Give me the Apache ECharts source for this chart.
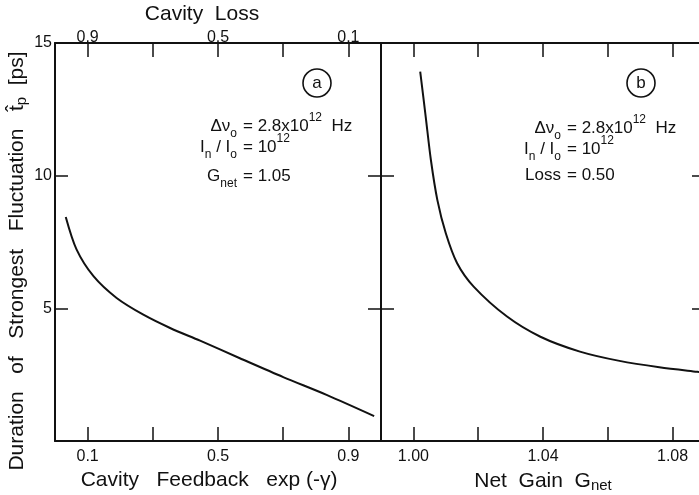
<!DOCTYPE html>
<html>
<head>
<meta charset="utf-8">
<script src="https://cdn.jsdelivr.net/npm/echarts@6/dist/echarts.min.js"></script>
<style>
  html, body { margin: 0; padding: 0; background: #fff; }
  #chart { width: 699px; height: 495px; }
</style>
</head>
<body>
<div id="chart"></div>
<script>
// (a) duration of strongest fluctuation vs cavity feedback exp(-γ), G_net = 1.05
const feedback  = [0.033, 0.066, 0.118, 0.189, 0.271, 0.353, 0.445, 0.567, 0.700, 0.833, 0.979];
const durationA = [8.44, 7.22, 6.21, 5.39, 4.76, 4.26, 3.78, 3.12, 2.41, 1.74, 0.94];

// (b) duration vs net gain, loss = 0.50
const netGain   = [1.0021, 1.0038, 1.0054, 1.0074, 1.0100, 1.0135, 1.0186, 1.0289, 1.0392, 1.0514, 1.0636, 1.0759, 1.0876, 1.0900];
const durationB = [13.92, 12.22, 10.59, 9.08, 7.83, 6.70, 5.82, 4.69, 3.93, 3.37, 3.02, 2.78, 2.61, 2.58];

// ticks and tick labels
const feedbackTicks  = [0.1, 0.3, 0.5, 0.7, 0.9];
const feedbackLabels = [0.1, 0.5, 0.9];
const lossTicks      = [0.1, 0.3, 0.5, 0.7, 0.9];
const lossLabels     = [0.1, 0.5, 0.9];
const gainTicks      = [1.00, 1.02, 1.04, 1.06, 1.08];
const gainLabels     = [1.00, 1.04, 1.08];
const durTicks       = [5, 10];
const durLabels      = [5, 10, 15];

const FONT = 'Liberation Sans';
const INK = '#111';

const chart = echarts.init(document.getElementById('chart'));

// frame-style axis: thick line, ticks pointing into the plot
function axis(o) {
  return {
    type: 'value',
    gridIndex: o.grid,
    position: o.pos,
    min: o.min, max: o.max,
    inverse: !!o.inverse,
    axisLine: { show: true, onZero: false, lineStyle: { color: INK, width: 2 } },
    axisTick: { show: true, inside: true, length: o.tickLen || 14, customValues: o.ticks, lineStyle: { color: INK, width: 1.5 } },
    axisLabel: o.labels ? {
      show: true, customValues: o.labels, formatter: o.fmt,
      color: INK, fontFamily: FONT, fontSize: 16, margin: o.margin != null ? o.margin : 6
    } : { show: false },
    splitLine: { show: false },
    name: o.name || '',
    nameLocation: 'middle',
    nameGap: o.nameGap || 0,
    nameRotate: o.nameRotate,
    nameTextStyle: {
      color: INK, fontFamily: FONT, fontSize: o.nameSize || 21, padding: o.namePad || 0,
      rich: { sub: { fontFamily: FONT, fontSize: 15, color: INK, verticalAlign: 'bottom', padding: [9, 0, 0, 0] } }
    }
  };
}

// annotation lines, aligned on the "=" sign
function note(eqX, y, left, right) {
  const rich = {
    sub: { fill: INK, fontFamily: FONT, fontSize: 12, verticalAlign: 'bottom', lineHeight: 14 },
    sup: { fill: INK, fontFamily: FONT, fontSize: 12, verticalAlign: 'top', lineHeight: 14 }
  };
  const base = { fill: INK, fontFamily: FONT, fontSize: 17, lineHeight: 28, verticalAlign: 'middle', rich };
  return [
    { type: 'text', x: eqX - 6, y, style: Object.assign({ text: left, align: 'right' }, base) },
    { type: 'text', x: eqX, y, style: Object.assign({ text: right, align: 'left' }, base) }
  ];
}

function circled(cx, cy, ch) {
  return [
    { type: 'circle', shape: { cx, cy, r: 14 }, style: { fill: 'none', stroke: INK, lineWidth: 1.6 } },
    { type: 'text', x: cx, y: cy, style: { text: ch, fill: INK, fontFamily: FONT, fontSize: 17, align: 'center', verticalAlign: 'middle' } }
  ];
}

const fmt1 = v => v.toFixed(1);
const fmt2 = v => v.toFixed(2);

chart.setOption({
  backgroundColor: '#fff',
  animation: false,
  grid: [
    { left: 55, top: 43, width: 326, height: 398, outerBoundsMode: 'none' },
    { left: 381, top: 43, width: 324, height: 398, outerBoundsMode: 'none' }
  ],
  xAxis: [
    axis({ grid: 0, pos: 'bottom', min: 0, max: 1, ticks: feedbackTicks, labels: feedbackLabels, fmt: fmt1, margin: 8,
      name: 'Cavity   Feedback   exp (-γ)', nameGap: 28, namePad: [0, 18, 0, 0] }),
    axis({ grid: 0, pos: 'top', min: 0, max: 1, inverse: true, ticks: lossTicks, labels: lossLabels, fmt: fmt1, margin: -3,
      name: 'Cavity  Loss', nameGap: 15, namePad: [0, 32, 0, 0] }),
    axis({ grid: 1, pos: 'bottom', min: 0.99, max: 1.09, ticks: gainTicks, labels: gainLabels, fmt: fmt2, margin: 8,
      name: 'Net  Gain  G{sub|net}', nameGap: 28 }),
    axis({ grid: 1, pos: 'top', min: 0.99, max: 1.09, ticks: gainTicks })
  ],
  yAxis: [
    axis({ grid: 0, pos: 'left', min: 0, max: 15, ticks: durTicks, labels: durLabels, fmt: v => String(v), margin: 3, tickLen: 13,
      name: 'Duration   of   Strongest   Fluctuation   t̂{sub|p}  [ps]',
      nameGap: 26, nameRotate: 90, namePad: [0, 38, 0, 0] }),
    axis({ grid: 0, pos: 'right', min: 0, max: 15, ticks: durTicks, tickLen: 13 }),
    axis({ grid: 1, pos: 'left', min: 0, max: 15, ticks: durTicks, tickLen: 13 }),
    axis({ grid: 1, pos: 'right', min: 0, max: 15, ticks: durTicks, tickLen: 13 })
  ],
  series: [
    {
      type: 'line', xAxisIndex: 0, yAxisIndex: 0,
      data: feedback.map((x, i) => [x, durationA[i]]),
      smooth: 0.3, showSymbol: false,
      lineStyle: { color: INK, width: 2 }
    },
    {
      type: 'line', xAxisIndex: 2, yAxisIndex: 2,
      data: netGain.map((x, i) => [x, durationB[i]]),
      smooth: 0.3, showSymbol: false,
      lineStyle: { color: INK, width: 2 }
    }
  ],
  graphic: [].concat(
    circled(317, 83, 'a'),
    circled(641, 83, 'b'),
    note(243, 126, 'Δν{sub|o}', '= 2.8x10{sup|12}  Hz'),
    note(243, 147, 'I{sub|n} / I{sub|o}', '= 10{sup|12}'),
    note(243, 176, 'G{sub|net}', '= 1.05'),
    note(567, 128, 'Δν{sub|o}', '= 2.8x10{sup|12}  Hz'),
    note(567, 149, 'I{sub|n} / I{sub|o}', '= 10{sup|12}'),
    note(567, 175, 'Loss', '= 0.50')
  )
});
</script>
</body>
</html>
